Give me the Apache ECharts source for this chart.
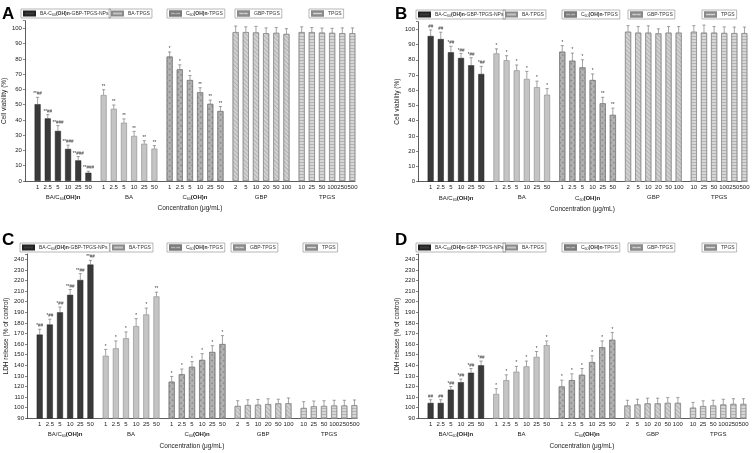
<!DOCTYPE html>
<html><head><meta charset="utf-8">
<script src="https://cdn.jsdelivr.net/npm/echarts@6/dist/echarts.min.js"></script>
<style>html,body{margin:0;padding:0;background:#fff}#c{width:753px;height:453px}</style>
</head><body><div id="c"></div>
<script>
const FONT = 'Liberation Sans, Arial, sans-serif';
// ---------- data ----------
const seriesNames = ['BA-C60(OH)n-GBP-TPGS-NPs', 'BA-TPGS', 'C60(OH)n-TPGS', 'GBP-TPGS', 'TPGS'];
const groupNames = ['BA/C60(OH)n', 'BA', 'C60(OH)n', 'GBP', 'TPGS'];
const concLabels = [
  ['1', '2.5', '5', '10', '25', '50'],
  ['1', '2.5', '5', '10', '25', '50'],
  ['1', '2.5', '5', '10', '25', '50'],
  ['2', '5', '10', '20', '50', '100'],
  ['10', '25', '50', '100', '250', '500']
];
// Panel A: cell viability (%)
const aVals = [
  [50.3, 41, 32.8, 21, 13.5, 5.4],
  [56.3, 47.3, 38.2, 29.5, 24.4, 21.2],
  [81.5, 73.1, 66.1, 58.1, 50.5, 45.8],
  [97.5, 97.5, 97.3, 96.8, 97, 96.3],
  [97.5, 97.5, 97.2, 97, 96.8, 96.8]
];
const aErrs = [
  [4.5, 2.5, 3.5, 2.5, 2.5, 1],
  [3.5, 2.5, 2.5, 3, 2, 2],
  [3, 3, 3, 3, 2.5, 3],
  [4, 3.5, 4, 3.5, 3.5, 3.5],
  [3.5, 3, 3, 3, 3.5, 3.5]
];
const aMarks = [
  ['**##', '**##', '**###', '**###', '**###', '**###'],
  ['**', '**', '**', '**', '**', '**'],
  ['*', '*', '*', '**', '**', '**'],
  null, null
];
// Panel B: cell viability (%)
const bVals = [
  [95.6, 93.6, 84.9, 81.2, 76.4, 70.7],
  [84.2, 79.7, 73.1, 67.4, 62, 57.1],
  [85.3, 79.4, 75, 66.7, 51.4, 43.8],
  [98.4, 97.8, 97.8, 97.3, 97.8, 97.8],
  [98.4, 97.8, 97.8, 97.6, 97.5, 97.5]
];
const bErrs = [
  [4, 4.5, 4, 3, 5, 5],
  [3, 3, 3.5, 5, 4, 4],
  [4, 5, 5, 4, 4, 4.5],
  [4, 4, 4.5, 3, 4, 4],
  [4, 5, 4, 4, 4, 4]
];
const bMarks = [
  ['##', '##', '*##', '*##', '*##', '*##'],
  ['*', '*', '*', '*', '*', '*'],
  ['*', '*', '*', '*', '**', '**'],
  null, null
];
// Panel C: LDH release (% of control)
const cVals = [
  [169, 178.5, 190, 206.5, 220.5, 235],
  [149, 156, 165.5, 177, 188, 205],
  [124.5, 131.5, 138.5, 145, 152.5, 160],
  [101.6, 102.5, 102.8, 103.4, 104, 104.2],
  [99.7, 101.3, 101.6, 102, 102, 102.3]
];
const cErrs = [
  [5, 5, 5, 5, 6, 4],
  [6, 7, 6, 7, 6, 4],
  [5, 5, 5, 6, 6, 8],
  [5, 5, 5, 5, 4, 5],
  [6, 5, 5, 5, 5, 5]
];
const cMarks = [
  ['*##', '*##', '*##', '**##', '**##', '**##'],
  ['*', '*', '*', '*', '*', '**'],
  ['*', '*', '*', '*', '*', '*'],
  null, null
];
// Panel D: LDH release (% of control)
const dVals = [
  [104.5, 104.5, 117, 124, 133, 140],
  [113, 126, 134, 139, 148, 159],
  [120, 126, 131, 143, 157, 164],
  [102, 103, 104, 104, 104.5, 104.5],
  [100, 101.5, 102, 103, 103.5, 103.5]
];
const dErrs = [
  [3, 3, 3, 3, 4, 4],
  [5, 5, 5, 5, 5, 4],
  [6, 6, 6, 6, 6, 7],
  [5, 5, 5, 5, 5, 5],
  [5, 5, 5, 5, 5, 5]
];
const dMarks = [
  ['##', '##', '*##', '*##', '*##', '*##'],
  ['*', '*', '*', '*', '*', '*'],
  ['*', '*', '*', '*', '*', '*'],
  null, null
];

// ---------- layout ----------
const N = 65, K0 = 2, STEP = 13;
const catIndex = (g, i) => K0 + STEP * g + 2 * i;
const panels = [
  {vals: aVals, errs: aErrs, marks: aMarks, grid: {left: 24, top: 20.7, width: 331, height: 160.3},
   yMin: 0, yMax: 105, yLimit: 100, yName: 'Cell viability (%)', letter: 'A', lx: 2, ly: 6,
   legLeft: [21, 109, 167, 235, 309], legTop: 9},
  {vals: bVals, errs: bErrs, marks: bMarks, grid: {left: 418, top: 21.7, width: 329, height: 160},
   yMin: 0, yMax: 105, yLimit: 100, yName: 'Cell viability (%)', letter: 'B', lx: 395, ly: 6,
   legLeft: [416, 503, 562, 628, 702], legTop: 10},
  {vals: cVals, errs: cErrs, marks: cMarks, grid: {left: 27, top: 254, width: 330, height: 164.3},
   yMin: 90, yMax: 245, yLimit: 240, yName: 'LDH release (% of control)', letter: 'C', lx: 2, ly: 232,
   legLeft: [20, 110, 167, 231, 303], legTop: 243},
  {vals: dVals, errs: dErrs, marks: dMarks, grid: {left: 418, top: 254, width: 328, height: 164.3},
   yMin: 90, yMax: 245, yLimit: 240, yName: 'LDH release (% of control)', letter: 'D', lx: 395, ly: 232,
   legLeft: [416, 503, 562, 628, 702], legTop: 243}
];

const richStyles = {
  s: {fontSize: 3.6, lineHeight: 7, verticalAlign: 'bottom', padding: [2.5, 0, 0, 0]},
  b: {fontWeight: 'bold'}
};
const richName = n => n.replace('C60', 'C{s|60}').replace('(OH)n', '{b|(OH)n}');

const styles = [
  {color: '#3a3a3a', borderColor: '#222', borderWidth: 0.5},
  {color: '#c4c4c4', borderColor: '#8a8a8a', borderWidth: 0.6},
  {color: '#b3b3b3', borderColor: '#7a7a7a', borderWidth: 0.6,
   decal: {symbol: 'rect', symbolSize: 1, color: 'rgba(110,110,110,0.45)', dashArrayX: [1.5, 1.5], dashArrayY: [1.5, 1.5], rotation: Math.PI / 4}},
  {color: '#d2d2d2', borderColor: '#8a8a8a', borderWidth: 0.6,
   decal: {symbol: 'rect', symbolSize: 1, color: 'rgba(140,140,140,0.45)', dashArrayX: [1, 0], dashArrayY: [1, 2], rotation: Math.PI / 4}},
  {color: '#d6d6d6', borderColor: '#8a8a8a', borderWidth: 0.6,
   decal: {symbol: 'rect', symbolSize: 1, color: 'rgba(140,140,140,0.45)', dashArrayX: [1, 0], dashArrayY: [1, 1.5], rotation: 0}}
];

const xLabelData = [], groupLabelData = [];
for (let k = 0; k < N; k++) { xLabelData.push(''); groupLabelData.push(''); }
concLabels.forEach((arr, g) => arr.forEach((t, i) => { xLabelData[catIndex(g, i)] = t; }));
groupNames.forEach((n, g) => { groupLabelData[K0 + STEP * g + 5] = richName(n); });
const tickFn = idx => {
  for (let g = 0; g < 5; g++) {
    const rel = idx - K0 - STEP * g;
    if (rel >= -1 && rel <= 11 && (rel % 2 !== 0)) return true;
  }
  return false;
};

const grids = [], xAxes = [], yAxes = [], series = [], legends = [], graphics = [];
panels.forEach((P, p) => {
  grids.push(P.grid);
  xAxes.push({
    type: 'category', gridIndex: p, data: xLabelData,
    axisLine: {lineStyle: {color: '#333', width: 0.8}},
    axisTick: {alignWithLabel: true, interval: tickFn, length: 2, lineStyle: {color: '#333', width: 0.6}},
    axisLabel: {interval: 0, fontSize: 6, color: '#222', margin: 3, fontFamily: FONT},
    name: 'Concentration (μg/mL)', nameLocation: 'middle', nameGap: 24,
    nameTextStyle: {fontSize: 6.5, color: '#222', fontFamily: FONT}
  });
  xAxes.push({
    type: 'category', gridIndex: p, data: groupLabelData, position: 'bottom', offset: 10,
    axisLine: {show: false}, axisTick: {show: false},
    axisLabel: {interval: 0, fontSize: 6, color: '#222', margin: 3, fontFamily: FONT, rich: richStyles}
  });
  yAxes.push({
    type: 'value', gridIndex: p, min: P.yMin, max: P.yMax, interval: 10,
    name: P.yName, nameLocation: 'middle', nameGap: 14,
    nameTextStyle: {fontSize: 6.5, color: '#222', fontFamily: FONT},
    axisLine: {show: true, lineStyle: {color: '#333', width: 0.8}},
    axisTick: {show: true, length: 2, lineStyle: {color: '#333', width: 0.6}},
    axisLabel: {fontSize: 6, color: '#222', margin: 3, fontFamily: FONT,
      formatter: v => (v > P.yLimit ? '' : String(v))},
    splitLine: {show: false}
  });
  P.vals.forEach((arr, g) => {
    const data = new Array(N).fill('-');
    arr.forEach((v, i) => { data[catIndex(g, i)] = v; });
    series.push({
      type: 'bar', name: seriesNames[g], xAxisIndex: 2 * p, yAxisIndex: p, stack: 'p' + p,
      barWidth: 6, data, itemStyle: styles[g], silent: true, animation: false
    });
  });
  const eData = [], eLabels = [];
  P.vals.forEach((arr, g) => arr.forEach((v, i) => {
    eData.push([catIndex(g, i), v, P.errs[g][i]]);
    eLabels.push(P.marks[g] ? P.marks[g][i] : '');
  }));
  series.push({
    type: 'custom', xAxisIndex: 2 * p, yAxisIndex: p, data: eData, z: 5, silent: true,
    clip: false, animation: false, encode: {x: 0, y: 1},
    renderItem(params, api) {
      const x = api.value(0), v = api.value(1), e = api.value(2);
      const a = api.coord([x, v]), b = api.coord([x, v + e]);
      const lab = eLabels[params.dataIndex];
      const ch = [
        {type: 'line', shape: {x1: a[0], y1: a[1], x2: b[0], y2: b[1]}, style: {stroke: '#666', lineWidth: 0.6}},
        {type: 'line', shape: {x1: b[0] - 1.6, y1: b[1], x2: b[0] + 1.6, y2: b[1]}, style: {stroke: '#666', lineWidth: 0.6}}
      ];
      if (lab) ch.push({type: 'text', x: b[0], y: b[1] - 0.6,
        style: {text: lab, fontSize: 4.5, fontFamily: FONT, fill: '#333', align: 'center', verticalAlign: 'bottom'}});
      return {type: 'group', children: ch};
    }
  });
  seriesNames.forEach((n, g) => {
    legends.push({
      data: [n], left: P.legLeft[g], top: P.legTop, icon: 'rect', itemWidth: 11, itemHeight: 4,
      padding: [1, 2], borderColor: '#888', borderWidth: 0.6, selectedMode: false,
      formatter: richName,
      textStyle: {fontSize: 5, color: '#333', fontFamily: FONT, lineHeight: 7, rich: richStyles}
    });
  });
  graphics.push({type: 'text', left: P.lx, top: P.ly,
    style: {text: P.letter, font: 'bold 17px ' + FONT, fill: '#000'}});
});

const chart = echarts.init(document.getElementById('c'), null, {renderer: 'canvas'});
chart.setOption({
  animation: false,
  backgroundColor: '#fff',
  textStyle: {fontFamily: FONT},
  grid: grids, xAxis: xAxes, yAxis: yAxes, series, legend: legends, graphic: graphics
});
</script></body></html>
